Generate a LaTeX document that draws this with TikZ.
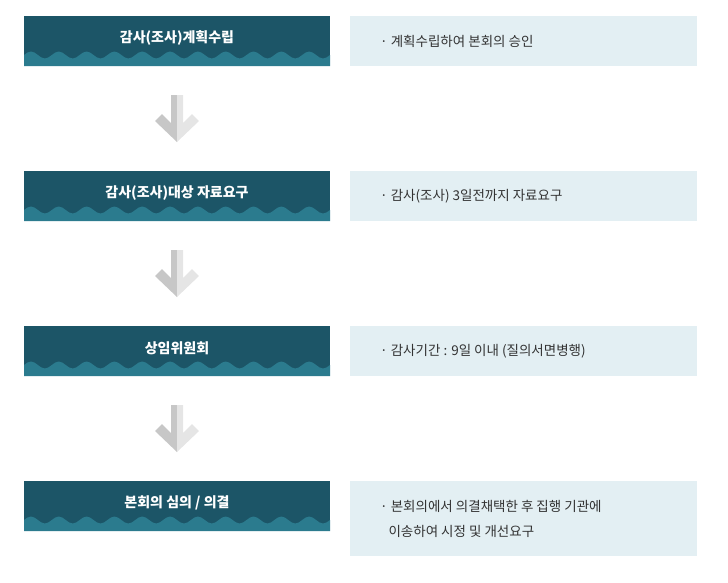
\documentclass[tikz,border=0pt]{standalone}
\usepackage{fontspec}
\setmainfont{Noto Sans CJK KR}
\definecolor{dark}{HTML}{1C5567}
\definecolor{wave}{HTML}{2B7B8E}
\definecolor{pale}{HTML}{E3EFF3}
\definecolor{txt}{HTML}{333333}
\begin{document}
\begin{tikzpicture}[x=1pt,y=-1pt,
	stepbox/.style={text=white,font=\fontsize{14}{16}\selectfont\bfseries,inner sep=0pt},
	notebox/.style={text=txt,font=\fontsize{13.5}{25}\selectfont,align=left,inner sep=0pt}]
	\useasboundingbox (0,0) rectangle (728,582);
	% step boxes with wavy bottom
	\foreach \y/\lab [count=\i] in {16/{감사(조사)계획수립},171/{감사(조사)대상 자료요구},326/{상임위원회},481/{본회의 심의 / 의결}}{
		\fill[dark] (24,\y) rectangle (330,\y+50);
		\fill[wave] (24,\y+50) -- (24,\y+39)
		\foreach \k in {0,...,10}{ sin (24+27.82*\k+6.95,\y+35.5) cos (24+27.82*\k+13.91,\y+39) sin (24+27.82*\k+20.86,\y+42.5) cos (24+27.82*\k+27.82,\y+39)}
		-- (330,\y+50) -- cycle;
		\node[stepbox] (s\i) at (177,\y+22) {\lab};
	}
	% note boxes
	\fill[pale] (350,16) rectangle (697,66);
	\node[notebox,anchor=west] (n1) at (380,41) {· 계획수립하여 본회의 승인};
	\fill[pale] (350,171) rectangle (697,221);
	\node[notebox,anchor=west] (n2) at (380,196) {· 감사(조사) 3일전까지 자료요구};
	\fill[pale] (350,326) rectangle (697,376);
	\node[notebox,anchor=west] (n3) at (380,351) {· 감사기간 : 9일 이내 (질의서면병행)};
	\fill[pale] (350,481) rectangle (697,556);
	\node[notebox,anchor=west] (n4) at (380,519) {· 본회의에서 의결채택한 후 집행 기관에\\\ \ \,이송하여 시정 및 개선요구};
	% arrows
	\foreach \y in {95,250,405}{
		\fill[black!22] (177,\y) -- (171,\y) -- (171,\y+28) -- (162,\y+19) -- (155,\y+26) -- (177,\y+47) -- cycle;
		\fill[black!10] (177,\y) -- (183,\y) -- (183,\y+28) -- (192,\y+19) -- (199,\y+26) -- (177,\y+47) -- cycle;
	}
\end{tikzpicture}
\end{document}
